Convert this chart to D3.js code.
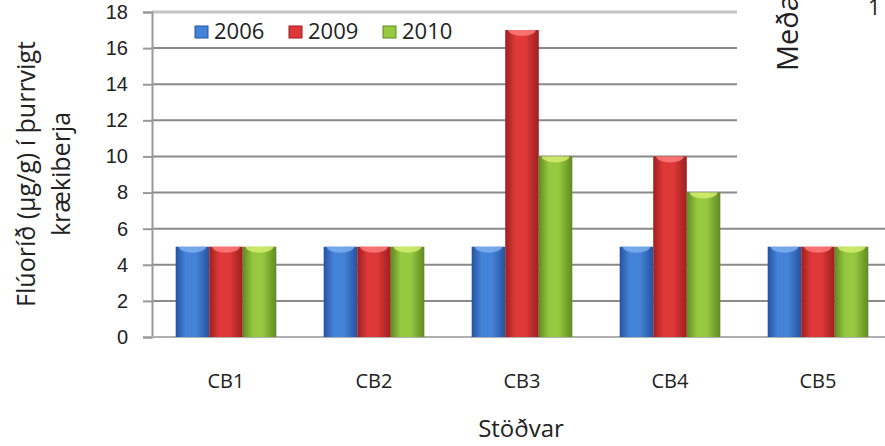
<!DOCTYPE html>
<html>
<head>
<meta charset="utf-8">
<script src="https://cdn.jsdelivr.net/npm/d3@7"></script>
<style>
  body { margin: 0; background: #fff; }
  svg { display: block; font-family: "Open Sans", "Noto Sans", sans-serif; }
</style>
</head>
<body>
<div class="chart"></div>
<script>
var categories = ['CB1', 'CB2', 'CB3', 'CB4', 'CB5']
var years = ['2006', '2009', '2010']
var values2006 = [5, 5, 5, 5, 5]
var values2009 = [5, 5, 17, 10, 5]
var values2010 = [5, 5, 10, 8, 5]
var yTicks = [0, 2, 4, 6, 8, 10, 12, 14, 16, 18]

var seriesValues = [values2006, values2009, values2010]
var colors = [
  { mid: '#4583d8', dark: '#2553a0', light: '#7fb0f0' },
  { mid: '#de3838', dark: '#9e1f1f', light: '#ff8080' },
  { mid: '#96c840', dark: '#5f8a22', light: '#d8f070' }
]

var width = 885, height = 446
var margin = { left: 152, top: 12 }
var plotH = 325
var step = 148

var svg = d3.select('.chart').append('svg')
    .attr('width', width)
    .attr('height', height)

var defs = svg.append('defs')
colors.forEach(function (c, i) {
  var g = defs.append('linearGradient').attr('id', 'grad' + i)
      .attr('x1', '0%').attr('x2', '100%').attr('y1', '0%').attr('y2', '0%')
  g.append('stop').attr('offset', '0%').attr('stop-color', c.dark)
  g.append('stop').attr('offset', '30%').attr('stop-color', c.mid)
  g.append('stop').attr('offset', '60%').attr('stop-color', c.mid)
  g.append('stop').attr('offset', '100%').attr('stop-color', c.dark)
})

var x = d3.scaleBand()
    .domain(categories)
    .range([margin.left, margin.left + step * categories.length])
    .paddingInner(0.32)
    .paddingOuter(0.16)
var x1 = d3.scaleBand().domain(years).range([0, x.bandwidth()])
var y = d3.scaleLinear().domain([0, 18]).range([margin.top + plotH, margin.top])

// gridlines
svg.append('g')
  .selectAll('line')
  .data(yTicks.slice(1))
  .enter().append('line')
  .attr('x1', margin.left).attr('x2', width)
  .attr('y1', function (d) { return y(d) }).attr('y2', function (d) { return y(d) })
  .attr('stroke', function (d) { return d === 18 ? '#c4c4c4' : '#8a8a8a' })
  .attr('stroke-width', function (d) { return d === 18 ? 3 : 2 })

// y axis
var yAxis = svg.append('g')
    .attr('transform', 'translate(' + margin.left + ',0)')
    .call(d3.axisLeft(y).tickValues(yTicks).tickSize(9).tickPadding(15))
yAxis.select('.domain').attr('stroke', '#999').attr('stroke-width', 2)
yAxis.selectAll('.tick line').attr('stroke', '#999').attr('stroke-width', 2)
yAxis.selectAll('.tick text').attr('font-size', 20).attr('fill', '#222')

// x axis line
svg.append('line')
  .attr('x1', margin.left).attr('x2', width)
  .attr('y1', y(0)).attr('y2', y(0))
  .attr('stroke', '#b0b0b0').attr('stroke-width', 2)

// bars
var groups = svg.append('g').selectAll('g')
    .data(categories)
    .enter().append('g')
    .attr('transform', function (d) { return 'translate(' + x(d) + ',0)' })

groups.each(function (cat, ci) {
  var g = d3.select(this)
  years.forEach(function (yr, si) {
    var v = seriesValues[si][ci]
    var bx = x1(yr), bw = x1.bandwidth()
    g.append('rect')
      .attr('x', bx).attr('y', y(v))
      .attr('width', bw).attr('height', y(0) - y(v))
      .attr('fill', 'url(#grad' + si + ')')
    g.append('path')
      .attr('d', 'M' + (bx + 3) + ',' + y(v) + ' A' + (bw / 2 - 3) + ',6 0 0 0 ' + (bx + bw - 3) + ',' + y(v) + ' Z')
      .attr('fill', colors[si].light)
      .attr('opacity', 0.8)
  })
})

// category labels
svg.append('g').selectAll('text')
  .data(categories)
  .enter().append('text')
  .attr('x', function (d) { return x(d) + x.bandwidth() / 2 })
  .attr('y', 388)
  .attr('text-anchor', 'middle')
  .attr('font-size', 20)
  .attr('fill', '#222')
  .text(function (d) { return d })

// x title
svg.append('text')
  .attr('x', 521).attr('y', 437)
  .attr('text-anchor', 'middle')
  .attr('font-size', 24)
  .attr('fill', '#222')
  .text('Stöðvar')

// y title
var yt = svg.append('text')
    .attr('transform', 'translate(35,174) rotate(-90)')
    .attr('text-anchor', 'middle')
    .attr('font-size', 25)
    .attr('fill', '#222')
yt.append('tspan').attr('x', 0).attr('dy', 0).text('Flúoríð  (µg/g) í þurrvigt')
yt.append('tspan').attr('x', 0).attr('dy', 35).text('krækiberja')

// legend
var legendX = [195, 289, 383]
var legend = svg.append('g').selectAll('g')
    .data(years)
    .enter().append('g')
    .attr('transform', function (d, i) { return 'translate(' + legendX[i] + ',26)' })
legend.append('rect')
  .attr('width', 13).attr('height', 12)
  .attr('fill', function (d, i) { return colors[i].mid })
  .attr('stroke', function (d, i) { return colors[i].dark })
legend.append('text')
  .attr('x', 19).attr('y', 13)
  .attr('font-size', 22)
  .attr('fill', '#222')
  .text(function (d) { return d })

// neighbouring chart overlapping at top right
svg.append('rect')
  .attr('x', 737).attr('y', 0)
  .attr('width', width - 737).attr('height', 208)
  .attr('fill', '#fff')
svg.append('text')
  .attr('transform', 'translate(798,71) rotate(-90)')
  .attr('font-size', 29)
  .attr('fill', '#222')
  .text('Meðal')
svg.append('text')
  .attr('x', 868).attr('y', 15)
  .attr('font-size', 22)
  .attr('fill', '#222')
  .text('1')
</script>
</body>
</html>
